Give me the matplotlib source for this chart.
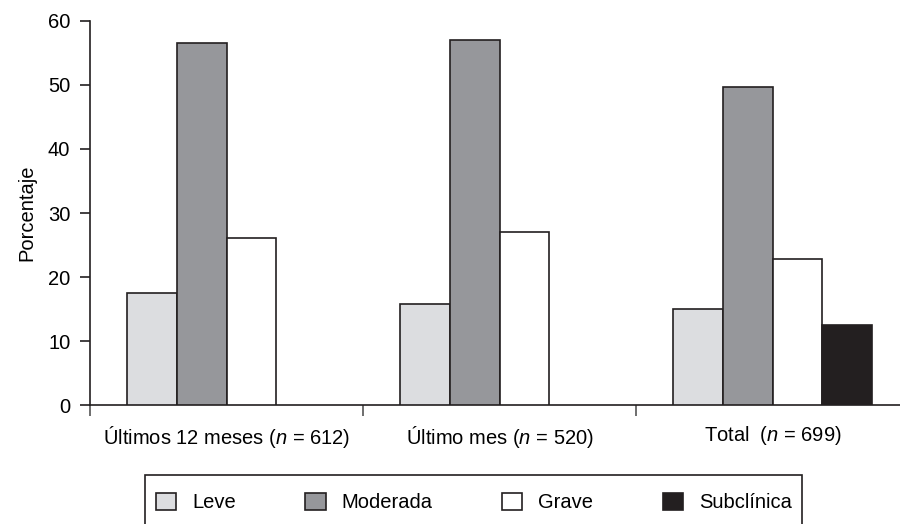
import matplotlib.pyplot as plt
import numpy as np
from matplotlib.patches import Rectangle

# data
groups = ['Últimos 12 meses ($\\mathit{n}$ = 612)',
          'Último mes ($\\mathit{n}$ = 520)',
          'Total  ($\\mathit{n}$ = 699)']
series = ['Leve', 'Moderada', 'Grave', 'Subclínica']
leve = [17.5, 15.8, 15.0]
moderada = [56.6, 57.0, 49.7]
grave = [26.1, 27.0, 22.8]
subclinica = [np.nan, np.nan, 12.5]
colors = ['#dcdde0', '#96979b', '#ffffff', '#231f20']

plt.rcParams['font.family'] = ['Liberation Sans', 'DejaVu Sans']
plt.rcParams['mathtext.fontset'] = 'custom'
plt.rcParams['mathtext.rm'] = 'Liberation Sans'
plt.rcParams['mathtext.it'] = 'Liberation Sans:italic'

fs = 14.5
fig = plt.figure(figsize=(9, 5.24), dpi=100)
ax = fig.add_axes([0.1, 0.227, 0.9, 0.733])

x = np.arange(len(groups))
w = 0.183
edge = '#231f20'
for i, (name, vals) in enumerate(zip(series, [leve, moderada, grave, subclinica])):
    ax.bar(x + (i - 1.5) * w, vals, width=w, color=colors[i], edgecolor=edge,
           linewidth=1.2, label=name, zorder=3)

ax.set_ylim(0, 60)
ax.set_yticks(range(0, 61, 10))
ax.set_xlim(-0.5, 2.467)
ax.set_xticks(x)
ax.set_xticklabels(groups, fontsize=fs)
ax.set_xticks([-0.5, 0.5, 1.5], minor=True)
ax.tick_params(axis='x', which='major', length=0, pad=14)
ax.tick_params(axis='x', which='minor', length=8, width=1.2, color='#555555', direction='out')
ax.tick_params(axis='y', length=7.2, width=1.2, color=edge, labelsize=fs, pad=7)
ax.set_ylabel('Porcentaje', fontsize=fs, labelpad=8)

for s in ['top', 'right']:
    ax.spines[s].set_visible(False)
for s in ['left', 'bottom']:
    ax.spines[s].set_linewidth(1.2)
    ax.spines[s].set_color(edge)

# legend without its own frame; the box is drawn separately (clipped at the bottom)
leg = fig.legend(loc='center left', bbox_to_anchor=(156 / 900, 1 - 502.5 / 524),
                 ncol=4, fontsize=fs, frameon=False,
                 handlelength=1.0, handleheight=0.95, handletextpad=0.8,
                 columnspacing=3.45, borderpad=0, borderaxespad=0)
fig.patches.append(Rectangle((145 / 900, -0.05), (802 - 145) / 900, 1 - 475 / 524 + 0.05,
                             transform=fig.transFigure, fill=False, ec=edge, lw=1.2))

fig.savefig('out.png', dpi=100)
